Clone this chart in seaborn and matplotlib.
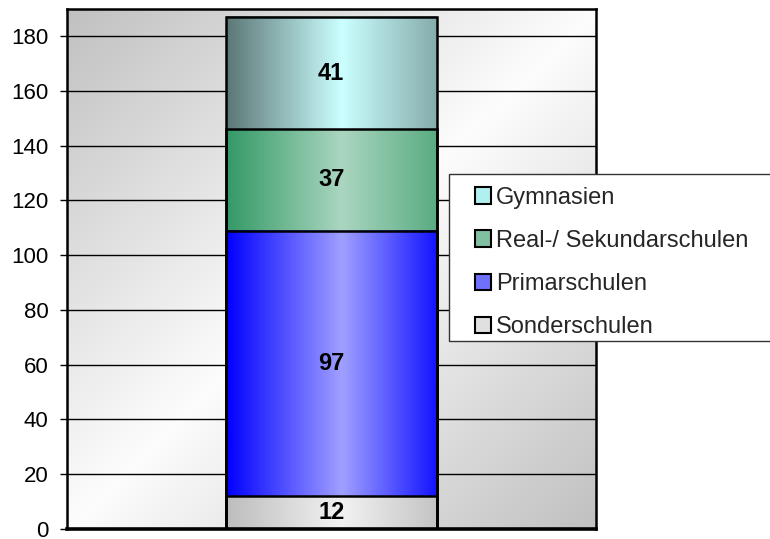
import numpy as np
import pandas as pd
import matplotlib
matplotlib.use("Agg")
import matplotlib.pyplot as plt
import seaborn as sns
from matplotlib.colors import to_rgb
from matplotlib.patches import Rectangle

# --- data ---
schools = ["Sonderschulen", "Primarschulen", "Real-/ Sekundarschulen", "Gymnasien"]
counts = [12, 97, 37, 41]
ytick_values = [0, 20, 40, 60, 80, 100, 120, 140, 160, 180]
y_max = 190

# gradient stops per segment (left edge, light centre, right edge)
shades = {
    "Sonderschulen": ["#bdbdbd", "#f2f2f2", "#c4c4c4"],
    "Primarschulen": ["#0000ff", "#a0a0ff", "#1414ff"],
    "Real-/ Sekundarschulen": ["#339966", "#aad6c0", "#5aac82"],
    "Gymnasien": ["#5c7676", "#ccffff", "#86acac"],
}
legend_colors = {
    "Sonderschulen": "#e0e0e0",
    "Primarschulen": "#7070ff",
    "Real-/ Sekundarschulen": "#80c0a0",
    "Gymnasien": "#b0f0f0",
}

tops = np.cumsum(counts)
df = pd.DataFrame({"group": [""] * len(schools), "school": schools,
                   "top": tops, "count": counts})

sns.set_theme(style="white")
plt.rcParams["font.family"] = ["Liberation Sans", "DejaVu Sans"]

fig = plt.figure(figsize=(7.7, 5.39), dpi=100)
ax = fig.add_axes([66.5 / 770, 10.4 / 539, 529.5 / 770, 519.6 / 539])

# stacked bar: draw cumulative totals, biggest first
order = list(reversed(schools))
sns.barplot(data=df, x="group", y="top", hue="school", hue_order=order,
            dodge=False, width=0.398, legend=False, ax=ax)


def gradient_row(stops, n=256):
    cols = np.array([to_rgb(c) for c in stops])
    pos = np.array([0.0, 0.55, 1.0])
    xs = np.linspace(0, 1, n)
    row = np.stack([np.interp(xs, pos, cols[:, k]) for k in range(3)], axis=-1)
    return row[np.newaxis, :, :]


for patch, name in zip(ax.patches, order):
    row = df[df["school"] == name].iloc[0]
    x0 = patch.get_x()
    x1 = x0 + patch.get_width()
    bottom = row["top"] - row["count"]
    ax.imshow(gradient_row(shades[name]), extent=(x0, x1, bottom, row["top"]),
              aspect="auto", interpolation="bilinear", zorder=2)
    patch.set_facecolor("none")
    patch.set_edgecolor("black")
    patch.set_linewidth(1.8)
    patch.set_zorder(3)
    ax.text((x0 + x1) / 2, bottom + row["count"] / 2, str(row["count"]),
            ha="center", va="center", fontsize=17, fontweight="bold",
            color="black", zorder=4)

# plot area background: grey corners, light diagonal
u, v = np.meshgrid(np.linspace(0, 1, 300), np.linspace(1, 0, 300))
t = np.clip(np.abs(u - v), 0, 1)
bg = 0.99 - 0.235 * t
ax.imshow(np.dstack([bg, bg, bg]), extent=(0, 1, 0, 1), transform=ax.transAxes,
          aspect="auto", interpolation="bilinear", zorder=0)

ax.set_axisbelow(True)
ax.yaxis.grid(True, color="black", linewidth=1.0)
ax.xaxis.grid(False)

ax.set_xlim(-0.5, 0.5)
ax.set_ylim(0, y_max)
ax.set_yticks(ytick_values)
ax.set_xticks([])
ax.set_xlabel("")
ax.set_ylabel("")
ax.tick_params(axis="y", direction="out", length=5, width=1, color="black",
               labelsize=16, labelcolor="black", left=True, pad=8)

for side, spine in ax.spines.items():
    spine.set_color("black")
    spine.set_linewidth(1.8)
ax.spines["bottom"].set_linewidth(2.6)

# legend box, drawn separately so the entries can sit further in
fig.patches.append(Rectangle((449 / 770, 1 - 341 / 539), 0.45, 167 / 539,
                             transform=fig.transFigure, facecolor="white",
                             edgecolor="#333333", linewidth=1.0, zorder=5))
handles = [Rectangle((0, 0), 1, 1, facecolor=legend_colors[s], edgecolor="black",
                     linewidth=1.5) for s in order]
leg = fig.legend(handles, order, loc="upper left",
                 bbox_to_anchor=(470 / 770, 1 - 182 / 539),
                 frameon=False, fontsize=17,
                 handlelength=0.7, handleheight=0.7, handletextpad=0.2,
                 labelspacing=0.9, borderpad=0.2, borderaxespad=0)
leg.set_zorder(6)

fig.savefig("out.png", dpi=100)
plt.close(fig)
